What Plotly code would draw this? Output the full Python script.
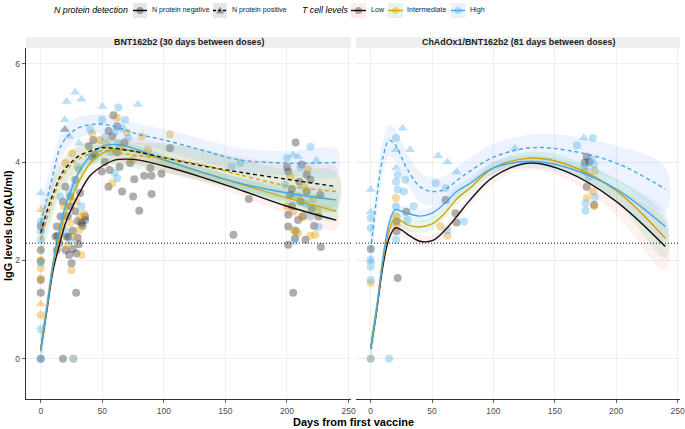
import plotly.graph_objects as go

# ------------------------------------------------------------------ data
curve_days = [0, 5, 10, 15, 20, 25, 30, 40, 50, 60, 70, 80, 100, 130, 160, 200, 240]

# BNT162b2 panel - fitted curves (log IgG)
bnt_low_neg = [0.19, 1.0, 1.8, 2.3, 2.75, 3.05, 3.3, 3.72, 3.92, 4.04, 4.06, 4.04, 3.92, 3.7, 3.45, 3.1, 2.82]
bnt_int_neg = [0.2, 1.05, 1.9, 2.45, 2.95, 3.25, 3.55, 3.97, 4.18, 4.26, 4.25, 4.2, 4.04, 3.8, 3.57, 3.27, 3.0]
bnt_high_neg = [0.15, 1.05, 1.95, 2.6, 3.1, 3.45, 3.75, 4.12, 4.32, 4.36, 4.32, 4.24, 4.05, 3.8, 3.58, 3.37, 3.23]
bnt_low_pos = [2.56, 3.0, 3.35, 3.67, 3.87, 4.0, 4.11, 4.22, 4.29, 4.28, 4.24, 4.2, 4.09, 3.93, 3.8, 3.65, 3.5]
bnt_int_pos = [2.42, 2.85, 3.25, 3.6, 3.8, 3.95, 4.05, 4.17, 4.23, 4.2, 4.16, 4.13, 4.08, 3.95, 3.75, 3.52, 3.4]
bnt_high_pos = [2.76, 3.25, 3.75, 4.25, 4.48, 4.6, 4.69, 4.76, 4.77, 4.72, 4.64, 4.56, 4.45, 4.25, 4.05, 3.98, 3.99]

# ChAdOx1/BNT162b2 panel - fitted curves
chad_low_neg = [0.2, 1.0, 1.9, 2.45, 2.66, 2.62, 2.53, 2.39, 2.4, 2.6, 2.89, 3.2, 3.7, 3.98, 3.8, 3.2, 2.28]
chad_int_neg = [0.2, 1.05, 2.0, 2.6, 2.86, 2.8, 2.72, 2.68, 2.74, 2.95, 3.25, 3.45, 3.88, 4.08, 3.95, 3.42, 2.45]
chad_high_neg = [0.2, 1.05, 2.05, 2.75, 3.03, 3.0, 2.96, 2.9, 2.96, 3.15, 3.4, 3.55, 3.88, 4.01, 3.89, 3.45, 2.69]
chad_high_pos = [2.21, 3.3, 4.1, 4.44, 4.35, 4.1, 3.85, 3.5, 3.4, 3.44, 3.62, 3.8, 4.1, 4.29, 4.24, 3.98, 3.45]

# confidence band half-widths
hw_bnt_neg = [0.3, 0.22, 0.18, 0.15, 0.14, 0.13, 0.12, 0.11, 0.1, 0.1, 0.1, 0.1, 0.1, 0.11, 0.12, 0.15, 0.2]
hw_bnt_pos = [0.5, 0.4, 0.35, 0.3, 0.28, 0.26, 0.25, 0.25, 0.25, 0.25, 0.26, 0.27, 0.3, 0.32, 0.32, 0.33, 0.4]
hw_bnt_high_pos = [0.45, 0.38, 0.32, 0.28, 0.25, 0.23, 0.22, 0.2, 0.2, 0.2, 0.2, 0.21, 0.22, 0.23, 0.24, 0.24, 0.27]
hw_chad_low = [0.25, 0.2, 0.17, 0.14, 0.13, 0.12, 0.12, 0.12, 0.12, 0.12, 0.12, 0.12, 0.12, 0.13, 0.16, 0.28, 0.5]
hw_chad_int = [0.25, 0.2, 0.17, 0.14, 0.13, 0.12, 0.12, 0.12, 0.12, 0.12, 0.12, 0.12, 0.12, 0.13, 0.15, 0.24, 0.4]
hw_chad_high = [0.25, 0.2, 0.17, 0.14, 0.13, 0.12, 0.12, 0.12, 0.12, 0.12, 0.12, 0.12, 0.12, 0.13, 0.14, 0.2, 0.3]
hw_chad_high_pos = [0.4, 0.35, 0.33, 0.32, 0.32, 0.32, 0.31, 0.3, 0.28, 0.27, 0.27, 0.27, 0.27, 0.27, 0.3, 0.35, 0.45]

# BNT162b2 panel - observations
bnt_low_neg_day = [0, 0, 0, 0, 0, 0, 13, 20, 23, 26, 25, 29, 28.7, 18, 31, 30, 13.5, 22.5, 33, 36, 28, 24, 16, 13, 12, 21,
                   32, 36, 30, 28, 39, 41.7, 18, 22, 26, 34, 20, 24, 15,
                   59, 42.7, 55, 58, 62, 44, 49.6, 56, 55, 66, 75, 80, 76, 84, 90, 90, 89, 98, 72.6, 105, 62, 68, 52, 64,
                   169, 156.5, 207, 201, 216, 219, 210, 202.6, 216, 227, 201, 209, 213, 225.6, 201, 206.6, 201, 215,
                   227.5, 205, 204, 220, 211, 207, 222, 200, 212, 204]
bnt_low_neg_igg = [0, 1.34, 1.6, 2.21, 2.7, 1.98, 2.21, 2.21, 2.11, 2.23, 1.94, 2.14, 1.34, 0, 2.33, 2.46, 2.5, 2.48, 2.76,
                   2.82, 3.0, 3.1, 2.89, 2.69, 2.48, 2.48, 3.37, 2.89, 2.8, 3.64, 4.32, 4.11, 3.2, 2.9, 2.6, 2.7, 3.5,
                   3.3, 2.35,
                   4.95, 4.45, 4.63, 4.52, 4.73, 4.15, 3.81, 3.84, 3.5, 3.4, 3.3, 3.01, 3.65, 3.72, 3.72, 3.35, 3.88,
                   3.76, 3.98, 4.28, 4.2, 4.4, 4.0, 3.9,
                   3.25, 2.52, 4.4, 3.81, 3.74, 3.64, 3.6, 3.33, 3.4, 3.33, 2.93, 2.82, 2.9, 2.89, 2.69, 2.45, 2.32,
                   2.42, 2.27, 1.34, 3.1, 3.05, 3.2, 2.6, 2.7, 3.9, 3.95, 3.45]
bnt_low_pos_day = [19.5]
bnt_low_pos_igg = [4.66]
bnt_int_neg_day = [0, 0, 0, 0, 25, 33, 26.5, 31.4, 32, 24, 27, 20, 25.5, 41.7, 18.7, 31, 35, 22, 29, 17,
                   62, 82, 53.6, 58, 75, 87, 105, 65, 70, 48,
                   203, 214, 209, 221, 205, 212, 205, 219, 223, 209, 200, 225, 217]
bnt_int_neg_igg = [0.89, 1.63, 1.84, 2.0, 1.8, 2.11, 0, 2.63, 2.89, 2.76, 2.48, 3.98, 4.18, 4.59, 3.1, 3.84, 2.95, 2.3,
                   3.2, 2.7,
                   4.9, 4.52, 4.35, 3.57, 4.05, 4.25, 4.56, 4.3, 4.6, 4.45,
                   3.7, 3.5, 3.3, 3.25, 3.0, 2.88, 2.62, 2.5, 2.52, 2.55, 3.1, 3.0, 3.85]
bnt_int_pos_day = [0, 0]
bnt_int_pos_igg = [1.11, 3.03]
bnt_high_neg_day = [0, 0, 0, 0, 0, 0, 26.5, 16, 23, 20, 27, 33, 18, 30, 24,
                    63, 68.5, 49.6, 40, 66, 71, 63, 60, 62, 57, 60, 52,
                    162, 155, 219, 200, 198.5, 219, 225.6, 206, 211, 215]
bnt_high_neg_igg = [0.6, 2.42, 2.59, 1.95, 2.79, 0, 0, 3.3, 3.37, 2.6, 3.5, 3.1, 2.9, 3.9, 2.4,
                    5.11, 4.86, 4.86, 4.66, 4.69, 4.49, 4.39, 3.78, 3.67, 4.2, 4.6, 4.5,
                    3.98, 3.91, 4.31, 4.08, 3.54, 2.9, 2.68, 2.4, 3.9, 3.15]
bnt_high_pos_day = [0, 21, 28, 33, 19.5, 23, 31, 50, 79, 209, 224, 205]
bnt_high_pos_igg = [3.37, 5.23, 5.42, 5.28, 4.86, 4.52, 4.39, 5.13, 5.17, 4.11, 4.03, 4.15]

# ChAdOx1/BNT162b2 panel - observations
chad_low_neg_day = [0, 22, 21, 21, 29, 61, 69, 70, 176, 174.5, 176, 182, 178]
chad_low_neg_igg = [2.23, 1.64, 2.79, 2.59, 2.99, 3.23, 2.96, 2.77, 4.11, 3.99, 3.5, 3.13, 4.0]
chad_int_neg_day = [0, 0, 20.6, 21, 21, 62.6, 56.8, 175, 182.6, 181, 176, 182]
chad_int_neg_igg = [1.54, 0, 3.27, 2.89, 2.7, 2.5, 2.69, 3.81, 3.82, 3.4, 3.27, 3.1]
chad_high_neg_day = [0, 0, 0, 0, 0, 0, 15, 20.6, 22, 20.6, 28, 22, 27, 20.6, 35, 30, 20.6, 53, 61, 76, 62.4,
                     181, 168, 180, 182, 174, 182.6, 175, 175, 178]
chad_high_neg_igg = [2.86, 2.66, 2.02, 1.87, 1.6, 0, 0, 4.49, 3.74, 3.6, 3.64, 3.44, 3.4, 3.1, 3.1, 2.82, 2.42, 3.57,
                     3.47, 2.79, 2.61, 4.49, 4.34, 4.05, 3.95, 3.9, 3.29, 3.16, 3.01, 3.7]
chad_high_pos_day = [0, 0, 0, 26, 20.6, 32, 20.6, 55, 62.4, 70, 117.5, 173.7]
chad_high_pos_igg = [3.44, 2.99, 1.98, 4.69, 4.25, 4.25, 3.88, 4.13, 4.0, 3.8, 4.28, 4.49]

threshold = 2.35
x_ticks = [0, 50, 100, 150, 200, 250]
y_ticks = [0, 2, 4, 6]
panel_titles = ["BNT162b2 (30 days between doses)", "ChAdOx1/BNT162b2 (81 days between doses)"]

# ------------------------------------------------------------------ style
FONT = "Liberation Sans"
PT = {"low": "rgba(30,30,30,0.36)", "int": "rgba(230,159,0,0.38)", "high": "rgba(86,180,233,0.4)"}
LN = {"low": "#111111", "int": "#D6A300", "high": "#42AAE2"}
RB = {"low": "rgba(248,118,109,0.10)", "int": "rgba(0,186,56,0.10)", "high": "rgba(97,156,255,0.12)"}
DASH = "4px,3px"

W, H = 685, 429
ML, MR, MT, MB = 26, 5, 0, 30
PW, PH = W - ML - MR, H - MT - MB


def px_x(px):
    return (px - ML) / PW


def px_y(py):
    return (PH - py) / PH


fig = go.Figure()


def add_ribbon(center, hw, grp, xa, ya):
    up = [c + h for c, h in zip(center, hw)]
    lo = [c - h for c, h in zip(center, hw)]
    fig.add_trace(go.Scatter(x=curve_days + curve_days[::-1], y=up + lo[::-1], mode="lines",
                             fill="toself", fillcolor=RB[grp], line=dict(width=0, shape="spline"),
                             hoverinfo="skip", showlegend=False, xaxis=xa, yaxis=ya))


def add_points(days, vals, grp, symbol, xa, ya):
    fig.add_trace(go.Scatter(x=days, y=vals, mode="markers",
                             marker=dict(color=PT[grp], size=8 if symbol == "circle" else 9,
                                         symbol=symbol, line=dict(width=0)),
                             showlegend=False, xaxis=xa, yaxis=ya))


def add_line(vals, grp, dash, xa, ya):
    fig.add_trace(go.Scatter(x=curve_days, y=vals, mode="lines",
                             line=dict(color=LN[grp], width=1.4, dash=dash, shape="spline"),
                             showlegend=False, xaxis=xa, yaxis=ya))


# left panel
for d, v, g, s in [(bnt_low_neg_day, bnt_low_neg_igg, "low", "circle"),
                   (bnt_int_neg_day, bnt_int_neg_igg, "int", "circle"),
                   (bnt_high_neg_day, bnt_high_neg_igg, "high", "circle"),
                   (bnt_low_pos_day, bnt_low_pos_igg, "low", "triangle-up"),
                   (bnt_int_pos_day, bnt_int_pos_igg, "int", "triangle-up"),
                   (bnt_high_pos_day, bnt_high_pos_igg, "high", "triangle-up")]:
    add_points(d, v, g, s, "x", "y")
for c, h, g in [(bnt_low_neg, hw_bnt_neg, "low"), (bnt_int_neg, hw_bnt_neg, "int"),
                (bnt_high_neg, hw_bnt_neg, "high"), (bnt_low_pos, hw_bnt_pos, "low"),
                (bnt_int_pos, hw_bnt_pos, "int"), (bnt_high_pos, hw_bnt_high_pos, "high")]:
    add_ribbon(c, h, g, "x", "y")
for c, g, dsh in [(bnt_low_neg, "low", "solid"), (bnt_int_neg, "int", "solid"), (bnt_high_neg, "high", "solid"),
                  (bnt_low_pos, "low", DASH), (bnt_int_pos, "int", DASH), (bnt_high_pos, "high", DASH)]:
    add_line(c, g, dsh, "x", "y")

# right panel
for d, v, g, s in [(chad_low_neg_day, chad_low_neg_igg, "low", "circle"),
                   (chad_int_neg_day, chad_int_neg_igg, "int", "circle"),
                   (chad_high_neg_day, chad_high_neg_igg, "high", "circle"),
                   (chad_high_pos_day, chad_high_pos_igg, "high", "triangle-up")]:
    add_points(d, v, g, s, "x2", "y2")
for c, h, g in [(chad_low_neg, hw_chad_low, "low"), (chad_int_neg, hw_chad_int, "int"),
                (chad_high_neg, hw_chad_high, "high"), (chad_high_pos, hw_chad_high_pos, "high")]:
    add_ribbon(c, h, g, "x2", "y2")
for c, g, dsh in [(chad_low_neg, "low", "solid"), (chad_int_neg, "int", "solid"),
                  (chad_high_neg, "high", "solid"), (chad_high_pos, "high", DASH)]:
    add_line(c, g, dsh, "x2", "y2")

# ------------------------------------------------------------------ layout
dom_left = [0, px_x(351)]
dom_right = [px_x(356), 1]
dom_y = [0, px_y(48)]
xr = [-12, 252]
yr = [-0.82, 6.32]

axis_common = dict(showgrid=True, gridcolor="#EBEBEB", gridwidth=0.8, zeroline=False,
                   tickfont=dict(family=FONT, size=8.5, color="#4D4D4D"),
                   ticks="outside", ticklen=3, tickcolor="#333333", tickwidth=0.8)

fig.update_layout(
    width=W, height=H, margin=dict(l=ML, r=MR, t=MT, b=MB),
    paper_bgcolor="white", plot_bgcolor="white", showlegend=False, hovermode=False,
    xaxis=dict(domain=dom_left, range=xr, tickvals=x_ticks, showline=True, linecolor="#333333",
               linewidth=1.3, **axis_common),
    xaxis2=dict(domain=dom_right, range=xr, tickvals=x_ticks, showline=True, linecolor="#333333",
                linewidth=1.3, anchor="y2", **axis_common),
    yaxis=dict(domain=dom_y, range=yr, tickvals=y_ticks, showline=True, linecolor="#333333",
               linewidth=1.3, **axis_common),
    yaxis2=dict(domain=dom_y, range=yr, tickvals=y_ticks, showticklabels=False, anchor="x2",
                showgrid=True, gridcolor="#EBEBEB", gridwidth=0.8, zeroline=False, ticks=""),
)

shapes = []
annotations = []

# threshold dotted lines
for xa, ya in [("x", "y"), ("x2", "y2")]:
    shapes.append(dict(type="line", xref=xa + " domain", yref=ya, x0=0, x1=1, y0=threshold, y1=threshold,
                       line=dict(color="black", width=0.9, dash="1px,2px")))

# strips
for dom, title in [(dom_left, panel_titles[0]), (dom_right, panel_titles[1])]:
    shapes.append(dict(type="rect", xref="paper", yref="paper", x0=dom[0], x1=dom[1],
                       y0=px_y(48), y1=px_y(37), fillcolor="#EFEFEF", line=dict(width=0), layer="below"))
    annotations.append(dict(xref="paper", yref="paper", x=(dom[0] + dom[1]) / 2, y=px_y(42.5),
                            text="<b>" + title + "</b>", showarrow=False, xanchor="center", yanchor="middle",
                            font=dict(family=FONT, size=8.9, color="#1A1A1A")))

# axis titles
annotations.append(dict(xref="paper", yref="paper", x=px_x(353), y=px_y(422), text="<b>Days from first vaccine</b>",
                        showarrow=False, xanchor="center", yanchor="middle",
                        font=dict(family=FONT, size=11, color="black")))
annotations.append(dict(xref="paper", yref="paper", x=px_x(8), y=px_y(226), text="<b>IgG levels log(AU/ml)</b>",
                        showarrow=False, textangle=-90, xanchor="center", yanchor="middle",
                        font=dict(family=FONT, size=11, color="black")))

# legend
LY = 10.5


def key_box(x0, x1, fill):
    shapes.append(dict(type="rect", xref="paper", yref="paper", x0=px_x(x0), x1=px_x(x1),
                       y0=px_y(18), y1=px_y(3), fillcolor=fill, line=dict(width=0)))


def key_line(x0, x1, color, dash):
    shapes.append(dict(type="line", xref="paper", yref="paper", x0=px_x(x0), x1=px_x(x1),
                       y0=px_y(LY), y1=px_y(LY), line=dict(color=color, width=1.4, dash=dash)))


def key_circle(cx, color):
    r = 3.6
    shapes.append(dict(type="circle", xref="paper", yref="paper", x0=px_x(cx - r), x1=px_x(cx + r),
                       y0=px_y(LY + r), y1=px_y(LY - r), fillcolor=color, line=dict(width=0)))


def key_triangle(cx, color):
    p = "M {} {} L {} {} L {} {} Z".format(px_x(cx - 4), px_y(LY + 3), px_x(cx + 4), px_y(LY + 3),
                                           px_x(cx), px_y(LY - 4))
    shapes.append(dict(type="path", xref="paper", yref="paper", path=p, fillcolor=color, line=dict(width=0)))


def label(x, text, size=7.1, italic=False):
    annotations.append(dict(xref="paper", yref="paper", x=px_x(x), y=px_y(LY), showarrow=False,
                            text=("<i>" + text + "</i>") if italic else text, xanchor="left", yanchor="middle",
                            font=dict(family=FONT, size=size, color="black" if italic else "#1A1A1A")))


label(52, "N protein detection", 8.8, True)
key_box(133, 147, "#E6E6E6")
key_line(133, 147, "black", "solid")
key_circle(140, "rgba(30,30,30,0.38)")
label(150, "N protein negative")
key_box(213, 227, "#E6E6E6")
key_line(213, 227, "black", "3px,2px")
key_triangle(220, "rgba(30,30,30,0.38)")
label(230, "N protein positive")

label(300, "T cell levels", 8.8, True)
key_box(351, 366, "#FEEBEA")
key_line(351, 366, LN["low"], "solid")
key_circle(358.5, "rgba(30,30,30,0.35)")
label(369, "Low")
key_box(388, 403, "#E5F6E8")
key_line(388, 403, LN["int"], "solid")
key_circle(395.5, PT["int"])
label(405, "Intermediate")
key_box(451, 465, "#EAF1FF")
key_line(451, 465, LN["high"], "solid")
key_circle(458, PT["high"])
label(468, "High")

fig.update_layout(shapes=shapes, annotations=annotations)
fig.write_html("out.html", config={"displayModeBar": False, "staticPlot": True},
               post_script="document.body.style.margin='0';document.body.style.padding='0';"
                           "document.documentElement.style.overflow='hidden';")
